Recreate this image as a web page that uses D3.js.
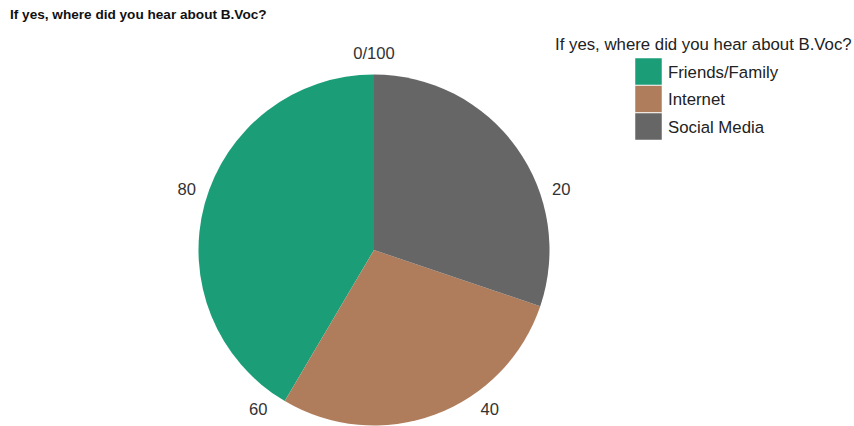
<!DOCTYPE html>
<html>
<head>
<meta charset="utf-8">
<script src="https://cdn.jsdelivr.net/npm/d3@7"></script>
<style>
  body { margin: 0; background: #fff; font-family: "Liberation Sans", Arial, sans-serif; }
  svg { display: block; }
</style>
</head>
<body>
<div id="chart"></div>
<script>
// data
const question = 'If yes, where did you hear about B.Voc?';
const categories = ['Friends/Family', 'Internet', 'Social Media'];
const counts = [22, 15, 16];
const colors = ['#1b9e77', '#b07d5c', '#666666'];
const tickValues = [0, 20, 40, 60, 80];

const width = 854;
const height = 426;
const cx = 374;
const cy = 250;
const radius = 175.5;

const svg = d3.select('#chart').append('svg').attr('width', width).attr('height', height);

// small bold heading
svg.append('text')
  .attr('x', 10).attr('y', 19)
  .style('font-size', '13.6px').style('font-weight', 'bold').attr('fill', '#111')
  .text(question);

const color = d3.scaleOrdinal().domain(categories).range(colors);

// slices run anticlockwise from the top
const pie = d3.pie().sort(null).startAngle(0).endAngle(-2 * Math.PI);
const arc = d3.arc().innerRadius(0).outerRadius(radius);

const g = svg.append('g').attr('transform', 'translate(' + cx + ',' + cy + ')');

g.selectAll('path.slice')
  .data(pie(counts))
  .enter()
  .append('path')
  .attr('class', 'slice')
  .attr('d', arc)
  .attr('fill', (d, i) => color(categories[i]));

// percentage scale round the rim, clockwise
const angle = d3.scaleLinear().domain([0, 100]).range([0, 2 * Math.PI]);
const labelR = 197;
g.selectAll('text.tick')
  .data(tickValues)
  .enter()
  .append('text')
  .attr('class', 'tick')
  .attr('x', (d) => Math.sin(angle(d)) * labelR)
  .attr('y', (d) => -Math.cos(angle(d)) * labelR)
  .attr('dy', '0.35em')
  .attr('text-anchor', 'middle')
  .style('font-size', '16.6px')
  .attr('fill', '#333')
  .text((d) => (d === 0 ? '0/100' : d));

// legend
const legend = svg.append('g').attr('transform', 'translate(555,0)');
legend.append('text')
  .attr('x', 0).attr('y', 50)
  .style('font-size', '16.8px').attr('fill', '#222')
  .text(question);

const rows = legend.selectAll('g.row')
  .data(categories)
  .enter()
  .append('g')
  .attr('class', 'row')
  .attr('transform', (d, i) => 'translate(80,' + (58 + i * 27.5) + ')');

rows.append('rect')
  .attr('width', 27).attr('height', 27)
  .attr('fill', (d) => color(d))
  .attr('stroke', '#fff').attr('stroke-width', 0.5);

rows.append('text')
  .attr('x', 33).attr('y', 19.5)
  .style('font-size', '16.8px').attr('fill', '#222')
  .text((d) => d);
</script>
</body>
</html>
